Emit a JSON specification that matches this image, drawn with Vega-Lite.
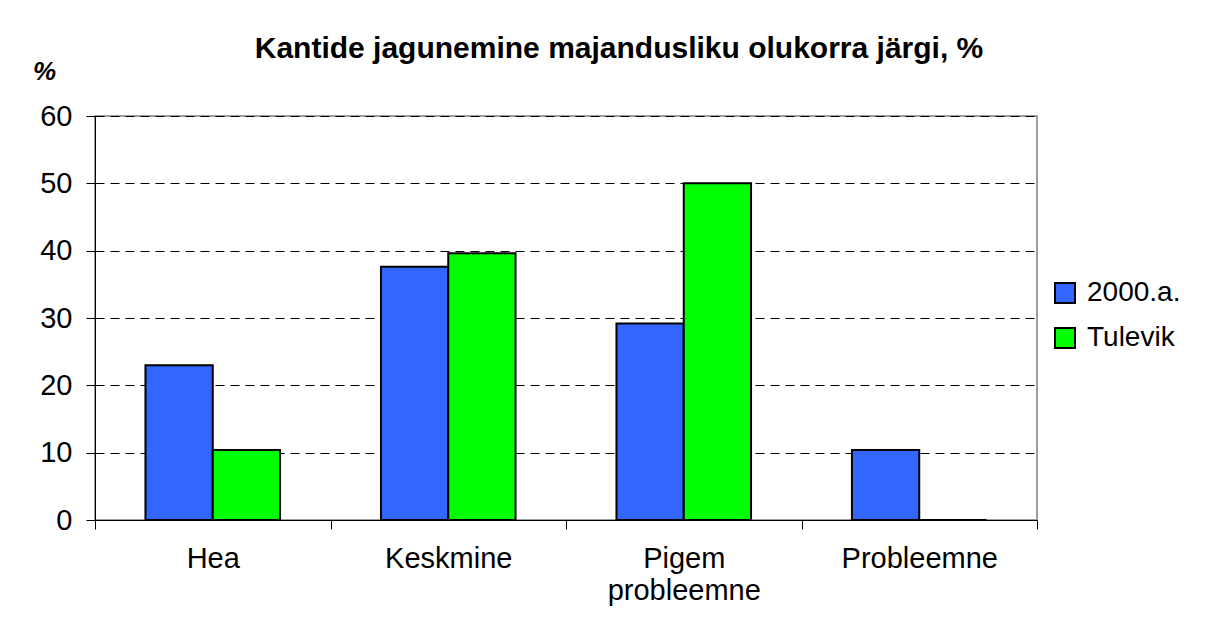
{
  "$schema": "https://vega.github.io/schema/vega-lite/v6.json",
  "autosize": "none",
  "width": 942,
  "height": 404,
  "padding": {"left": 95, "top": 116, "right": 186, "bottom": 110},
  "background": "white",
  "title": {
    "text": "Kantide jagunemine majandusliku olukorra järgi, %",
    "font": "Liberation Sans",
    "fontSize": 30,
    "fontWeight": "bold",
    "color": "black",
    "anchor": "middle",
    "dx": 53,
    "offset": -6
  },
  "data": {
    "values": [
      {"kategooria": "Hea", "periood": "2000.a.", "protsent": 23.0},
      {"kategooria": "Hea", "periood": "Tulevik", "protsent": 10.4},
      {"kategooria": "Keskmine", "periood": "2000.a.", "protsent": 37.6},
      {"kategooria": "Keskmine", "periood": "Tulevik", "protsent": 39.6},
      {"kategooria": "Pigem probleemne", "periood": "2000.a.", "protsent": 29.2},
      {"kategooria": "Pigem probleemne", "periood": "Tulevik", "protsent": 50.0},
      {"kategooria": "Probleemne", "periood": "2000.a.", "protsent": 10.4},
      {"kategooria": "Probleemne", "periood": "Tulevik", "protsent": 0}
    ]
  },
  "mark": {"type": "bar", "stroke": "black", "strokeWidth": 2},
  "encoding": {
    "x": {
      "field": "kategooria",
      "type": "nominal",
      "sort": null,
      "scale": {"paddingInner": 0, "paddingOuter": 0},
      "axis": {
        "title": null,
        "labelAngle": 0,
        "tickBand": "extent",
        "tickSize": 9,
        "tickColor": "black",
        "domainColor": "black",
        "labelFont": "Liberation Sans",
        "labelFontSize": 29,
        "labelColor": "black",
        "labelPadding": 15,
        "labelLineHeight": 32,
        "labelExpr": "datum.label == 'Pigem probleemne' ? ['Pigem', 'probleemne'] : datum.label"
      }
    },
    "xOffset": {
      "field": "periood",
      "type": "nominal",
      "scale": {"paddingInner": 0, "paddingOuter": 0.75}
    },
    "y": {
      "field": "protsent",
      "type": "quantitative",
      "scale": {"domain": [0, 60]},
      "axis": {
        "values": [0, 10, 20, 30, 40, 50, 60],
        "title": "%",
        "titleAngle": 0,
        "titleX": -51,
        "titleY": -45,
        "titleAlign": "center",
        "titleBaseline": "middle",
        "titleFont": "Liberation Sans",
        "titleFontSize": 26,
        "titleFontWeight": "bold",
        "titleFontStyle": "italic",
        "titleColor": "black",
        "labelFont": "Liberation Sans",
        "labelFontSize": 29,
        "labelColor": "black",
        "labelPadding": 14,
        "tickSize": 9,
        "tickColor": "black",
        "domainColor": "black",
        "grid": true,
        "gridColor": "black",
        "gridDash": [9, 6],
        "gridWidth": 1,
        "gridOpacity": 1
      }
    },
    "color": {
      "field": "periood",
      "type": "nominal",
      "scale": {"domain": ["2000.a.", "Tulevik"], "range": ["#3366FF", "#00FF00"]},
      "legend": {
        "title": null,
        "orient": "none",
        "legendX": 956,
        "legendY": 163,
        "symbolType": "square",
        "symbolSize": 400,
        "symbolStrokeColor": "black",
        "symbolStrokeWidth": 2,
        "symbolOpacity": 1,
        "labelFont": "Liberation Sans",
        "labelFontSize": 28,
        "labelColor": "black",
        "labelOffset": 8,
        "rowPadding": 17,
        "padding": 0
      }
    }
  },
  "config": {
    "view": {"stroke": "#808080", "strokeWidth": 1.5}
  }
}
